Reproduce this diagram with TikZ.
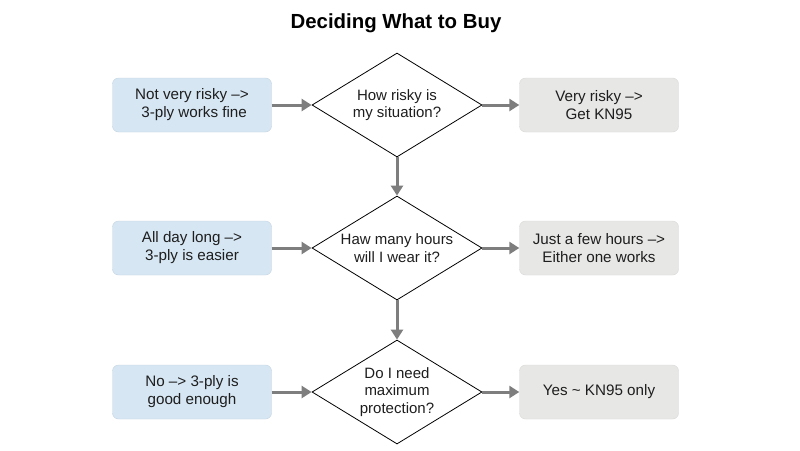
\documentclass[tikz,border=0pt]{standalone}
\usepackage{fontspec}
\setmainfont{Liberation Sans}
\usetikzlibrary{shapes.geometric,arrows.meta}
\definecolor{boxblue}{HTML}{D6E6F3}
\definecolor{boxgray}{HTML}{E7E7E6}
\definecolor{arrowgray}{HTML}{7E7E7E}
\definecolor{inkgray}{HTML}{1E1E1E}

\begin{document}
\begin{tikzpicture}[x=1pt,y=1pt,
  answer/.style={rounded corners=6pt,minimum width=159pt,minimum height=54pt,
    align=center,inner sep=2pt,text=inkgray,font=\fontsize{15.2}{18}\selectfont},
  lowrisk/.style={answer,fill=boxblue,draw=boxblue!92!black,line width=.4pt},
  highrisk/.style={answer,fill=boxgray,draw=boxgray!94!black,line width=.4pt},
  question/.style={diamond,aspect=1.63,minimum width=170pt,minimum height=104pt,
    inner sep=0pt,draw=black,line width=.8pt,fill=white,align=center,
    text=inkgray,font=\fontsize{15}{17.5}\selectfont},
  flow/.style={-{Triangle[length=10pt,width=12pt]},color=arrowgray,line width=3pt}]
\useasboundingbox[fill=white] (0,0) rectangle (800,-450);

\node[font=\bfseries\fontsize{20.4}{24}\selectfont,text=black] (title) at (396,-23) {Deciding What to Buy};

% first question
\node[question] (risk) at (397,-105) {How risky is\\my situation?};
\node[lowrisk] (risklow) at (192,-105) {Not very risky {--}>\\\ 3-ply works fine};
\node[highrisk] (riskhigh) at (599,-105) {Very risky {--}>\\Get KN95};

% second question
\node[question] (hours) at (397,-248) {Haw many hours\\will I wear it?};
\node[lowrisk] (hourslong) at (192,-248) {All day long {--}>\\3-ply is easier};
\node[highrisk] (hoursshort) at (599,-248) {Just a few hours {--}>\\Either one works};

% third question
\node[question] (protect) at (397,-392) {Do I need\\maximum\\protection?};
\node[lowrisk] (protectno) at (192,-392) {No {--}> 3-ply is\\good enough};
\node[highrisk] (protectyes) at (599,-392) {Yes \textasciitilde{} KN95 only};

\draw[flow] (risklow) -- (risk);
\draw[flow] (risk) -- (riskhigh);
\draw[flow] (risk) -- (hours);
\draw[flow] (hourslong) -- (hours);
\draw[flow] (hours) -- (hoursshort);
\draw[flow] (hours) -- (protect);
\draw[flow] (protectno) -- (protect);
\draw[flow] (protect) -- (protectyes);

\end{tikzpicture}
\end{document}
